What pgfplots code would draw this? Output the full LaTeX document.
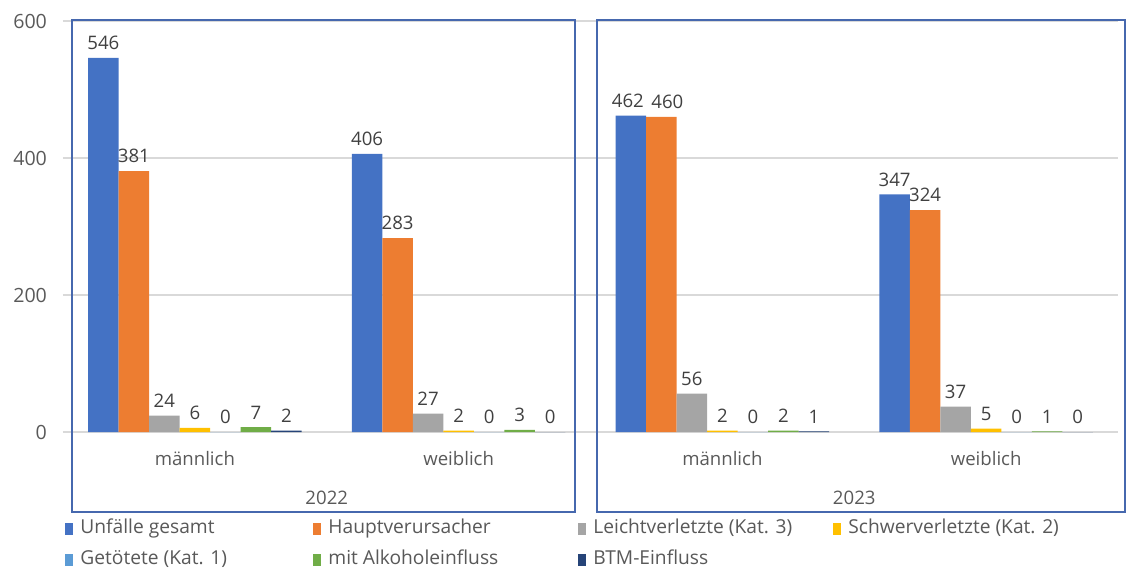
\documentclass[border=0pt]{standalone}
\usepackage{pgfplots}
\pgfplotsset{compat=1.18}
\usepackage{fontspec}
\setmainfont{Open Sans}
\definecolor{c1}{HTML}{4472C4}
\definecolor{c2}{HTML}{ED7D31}
\definecolor{c3}{HTML}{A5A5A5}
\definecolor{c4}{HTML}{FFC000}
\definecolor{c5}{HTML}{5B9BD5}
\definecolor{c6}{HTML}{70AD47}
\definecolor{c7}{HTML}{264478}
\definecolor{gridgray}{HTML}{D9D9D9}
\definecolor{tickgray}{HTML}{595959}
\definecolor{lblgray}{HTML}{404040}
\definecolor{boxblue}{HTML}{4668AE}
\newcommand{\lbox}[2]{\makebox[#1][l]{#2}}
\begin{document}
\begin{tikzpicture}
\begin{axis}[
  at={(0,0)}, anchor=south west,
  scale only axis, width=527.5pt, height=205.5pt,
  xmin=-0.5, xmax=3.5, ymin=0, ymax=600,
  clip=false,
  axis line style={draw=none}, major tick length=0pt,
  ytick={0,200,400,600},
  ymajorgrids, grid style={color=gridgray, line width=0.6pt},
  xtick={0,1,2,3}, xticklabels={männlich,weiblich,männlich,weiblich},
  tick label style={text=tickgray},
  xticklabel style={yshift=-6pt, font=\fontsize{9.3}{11}\selectfont},
  yticklabel style={xshift=-4.5pt, font=\fontsize{9.8}{11}\selectfont},
  /pgf/number format/assume math mode=true,
  ybar=0pt, bar width=0.1157,
  nodes near coords,
  every node near coord/.append style={text=lblgray, font=\fontsize{9.3}{11}\selectfont, yshift=0.5pt},
  legend columns=4,
  legend style={at={(axis description cs:0.0019,-0.215)}, anchor=north west,
    draw=none, inner sep=0pt, column sep=0pt, row sep=7pt,
    font=\fontsize{9.6}{11}\selectfont, text=tickgray,
    nodes={inner xsep=3.5pt, inner ysep=0pt, text height=6.5pt, text depth=2pt}},
  legend image code/.code={\fill[#1] (0pt,-3pt) rectangle (4pt,3pt);},
  legend cell align=left,
]
\addplot[fill=c1, draw=none, coordinate style/.condition={x==2}{xshift=-1.5pt}] coordinates {(0,546) (1,406) (2,462) (3,347)};
\addlegendentry{\lbox{113pt}{Unfälle gesamt}}
\addplot[fill=c2, draw=none, coordinate style/.condition={x==2}{xshift=3pt}] coordinates {(0,381) (1,283) (2,460) (3,324)};
\addlegendentry{\lbox{121.5pt}{Hauptverursacher}}
\addplot[fill=c3, draw=none] coordinates {(0,24) (1,27) (2,56) (3,37)};
\addlegendentry{\lbox{116.5pt}{Leichtverletzte (Kat. 3)}}
\addplot[fill=c4, draw=none] coordinates {(0,6) (1,2) (2,2) (3,5)};
\addlegendentry{Schwerverletzte (Kat. 2)}
\addplot[fill=c5, draw=none] coordinates {(0,0) (1,0) (2,0) (3,0)};
\addlegendentry{\lbox{113pt}{Getötete (Kat. 1)}}
\addplot[fill=c6, draw=none] coordinates {(0,7) (1,3) (2,2) (3,1)};
\addlegendentry{\lbox{121.5pt}{mit Alkoholeinfluss}}
\addplot[fill=c7, draw=none] coordinates {(0,2) (1,0) (2,1) (3,0)};
\addlegendentry{\lbox{116.5pt}{BTM-Einfluss}}
\draw[boxblue, line width=0.75pt] (axis cs:-0.466,-117) rectangle (axis cs:1.441,601.5);
\draw[boxblue, line width=0.75pt] (axis cs:1.525,-117) rectangle (axis cs:3.527,601.5);
\node[text=tickgray, font=\fontsize{9.3}{11}\selectfont] at (axis cs:0.5,-96) {2022};
\node[text=tickgray, font=\fontsize{9.3}{11}\selectfont] at (axis cs:2.5,-96) {2023};
\end{axis}
\pgfresetboundingbox
\path[use as bounding box] (-31.5pt,-67.5pt) rectangle (532.5pt,216pt);
\end{tikzpicture}
\end{document}
